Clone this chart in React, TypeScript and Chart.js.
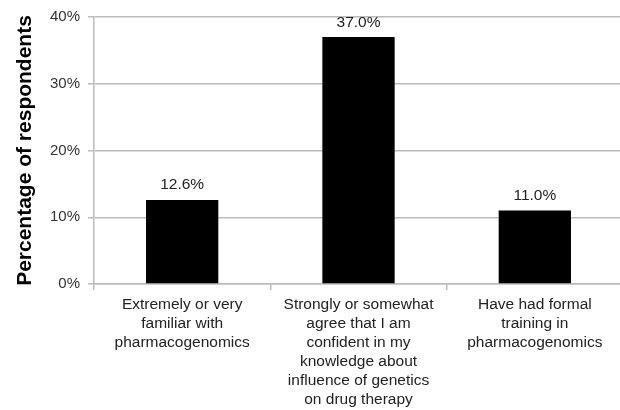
import React, { useEffect, useRef } from "react";
import { Chart, registerables } from "chart.js";

Chart.register(...registerables);

const categories: string[][] = [
  ["Extremely or very", "familiar with", "pharmacogenomics"],
  ["Strongly or somewhat", "agree that I am", "confident in my", "knowledge about", "influence of genetics", "on drug therapy"],
  ["Have had formal", "training in", "pharmacogenomics"],
];
const values: number[] = [12.6, 37.0, 11.0];
const yTitle = "Percentage of respondents";

const FONT = "'Liberation Sans', Arial, sans-serif";

const valueLabels = {
  id: "valueLabels",
  afterDatasetsDraw(chart: any) {
    const ctx = chart.ctx;
    const meta = chart.getDatasetMeta(0);
    ctx.save();
    ctx.font = `15.5px ${FONT}`;
    ctx.fillStyle = "#222";
    ctx.textAlign = "center";
    ctx.textBaseline = "bottom";
    meta.data.forEach((bar: any, i: number) => {
      ctx.fillText(values[i].toFixed(1) + "%", bar.x, bar.y - 7);
    });
    ctx.restore();
  },
};

const W = 623;
const H = 410;

export default function App() {
  const ref = useRef<HTMLCanvasElement>(null);
  useEffect(() => {
    document.body.style.margin = "0";
    document.body.style.overflow = "hidden";
    const chart = new Chart(ref.current!, {
      type: "bar",
      data: {
        labels: categories,
        datasets: [
          {
            data: values,
            backgroundColor: "#000",
            borderWidth: 0,
            barPercentage: 0.41,
            categoryPercentage: 1,
          },
        ],
      },
      options: {
        animation: false,
        responsive: false,
        maintainAspectRatio: false,
        layout: { padding: { top: 16, right: 0, left: 0, bottom: 0 } },
        plugins: { legend: { display: false }, tooltip: { enabled: false } },
        scales: {
          x: {
            offset: true,
            afterFit: (scale: any) => {
              scale.height = 126;
            },
            grid: {
              offset: true,
              drawOnChartArea: false,
              drawTicks: true,
              tickLength: 6,
              color: "#bbb",
              lineWidth: 1.5,
            },
            border: { color: "#bbb", width: 1.5 },
            ticks: {
              color: "#222",
              font: { family: FONT, size: 15.5, lineHeight: 1.226 },
              maxRotation: 0,
              autoSkip: false,
              padding: 5,
            },
          },
          y: {
            min: 0,
            max: 40,
            afterFit: (scale: any) => {
              scale.width = 94;
            },
            ticks: {
              stepSize: 10,
              color: "#333",
              font: { family: FONT, size: 15 },
              callback: (v: any) => v + "%",
              padding: 8,
            },
            grid: { color: "#bbb", lineWidth: 1.5, tickLength: 6 },
            border: { color: "#bbb", width: 1.5 },
            title: {
              display: true,
              text: yTitle,
              color: "#000",
              font: { family: FONT, size: 21, weight: "bold" },
              padding: { top: 13, bottom: 0 },
            },
          },
        },
      },
      plugins: [valueLabels],
    } as any);
    return () => chart.destroy();
  }, []);
  return (
    <div style={{ position: "fixed", left: 0, top: 0, width: 620, height: 410, overflow: "hidden" }}>
      <canvas ref={ref} width={W} height={H} style={{ width: W, height: H }} />
    </div>
  );
}
